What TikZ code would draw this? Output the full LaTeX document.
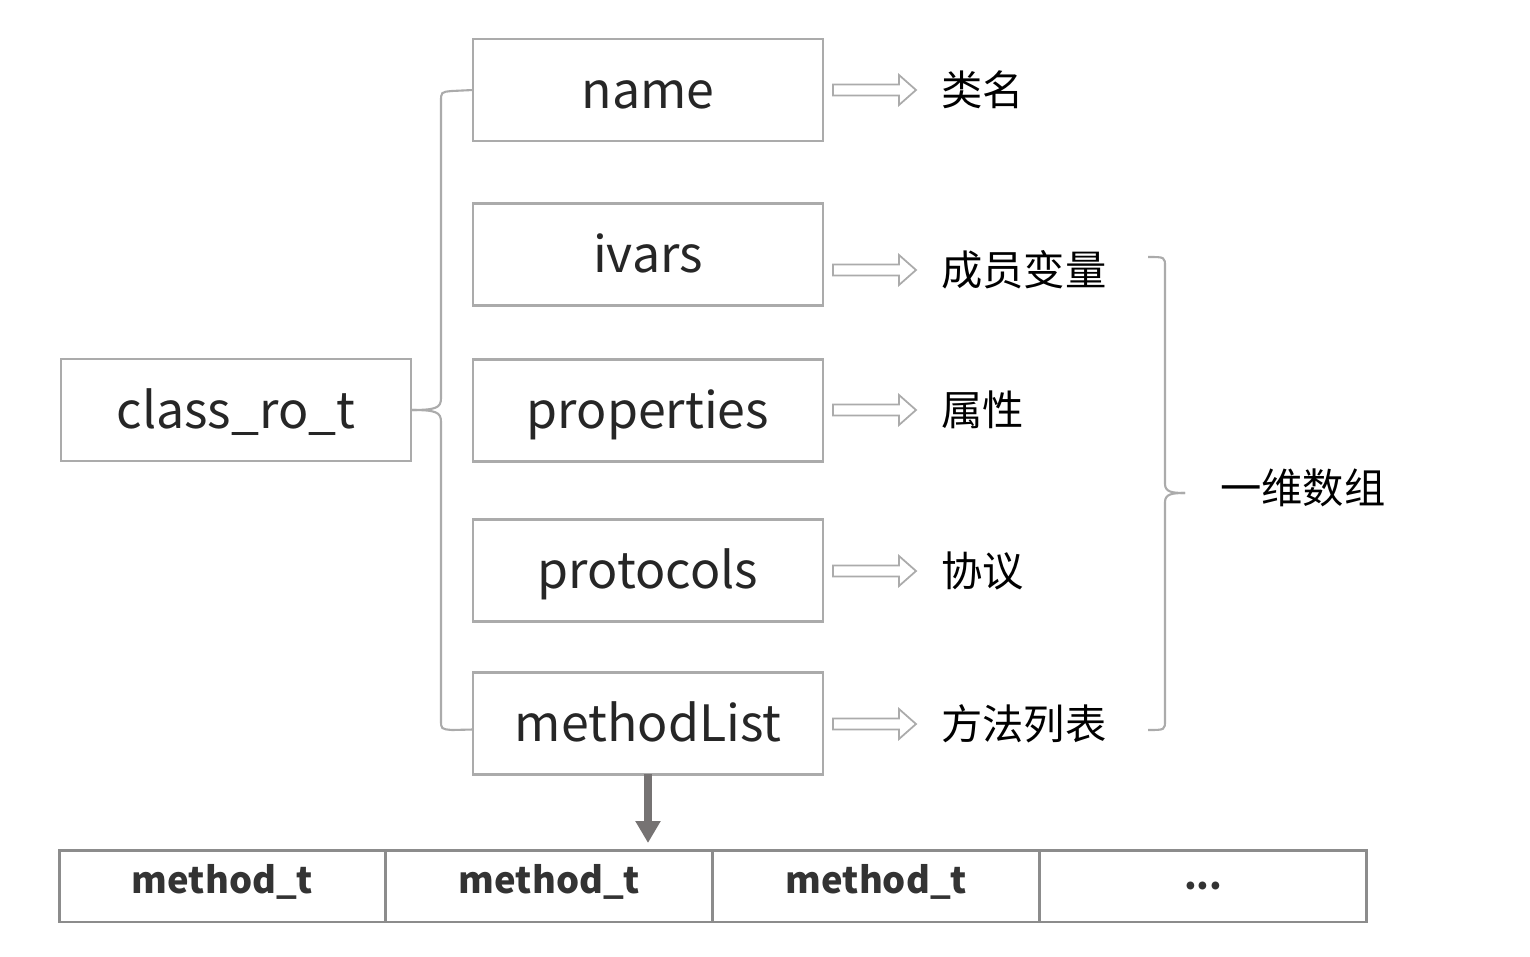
\documentclass[tikz,border=0pt]{standalone}
\usepackage{fontspec}
\setmainfont{Noto Sans CJK SC}
\usepackage{tikz}
\usetikzlibrary{positioning}
\usetikzlibrary{arrows.meta}
\usetikzlibrary{calc}

\definecolor{boxgray}{HTML}{ABABAB}
\definecolor{cellgray}{HTML}{8C8C8C}
\definecolor{arrgray}{HTML}{767373}
\definecolor{txtdark}{HTML}{262626}
\definecolor{celltxt}{HTML}{333333}

\tikzset{
  field/.style={draw=boxgray, line width=1.2pt, minimum width=7cm, minimum height=2.04cm,
    inner sep=0pt, outer sep=0pt, text=txtdark, text height=26pt, text depth=5pt,
    font=\fontsize{28.5}{34}\selectfont},
  meaning/.style={anchor=west, inner sep=0pt, text=black, font=\fontsize{23.5}{28}\selectfont},
  cell/.style={draw=cellgray, line width=1.7pt, minimum width=6.54cm, minimum height=1.44cm,
    inner sep=0pt, outer sep=0pt, text=celltxt, text height=14pt, text depth=6pt,
    font=\bfseries\fontsize{20.7}{25}\selectfont},
  brace/.style={draw=boxgray, line width=1.2pt},
  hollow/.style={draw=boxgray, line width=1pt, fill=white}
}

\begin{document}
\begin{tikzpicture}[x=0.02cm, y=-0.02cm]
        % Define the frame
        \useasboundingbox (0,0) rectangle (1530,956);

        % Draw the boxes
        \node[field] (cls) at (236,410) {class\_ro\_t};
        \node[field] (name) at (648,90) {name};
        \node[field] (ivars) at (648,254.5) {ivars};
        \node[field] (properties) at (648,410.5) {properties};
        \node[field] (protocols) at (648,570.5) {protocols};
        \node[field] (methodList) at (648,723.5) {methodList};

        % Meanings
        \node[meaning] (lname) at (941,90) {类名};
        \node[meaning] (livars) at (941,270) {成员变量};
        \node[meaning] (lproperties) at (941,410) {属性};
        \node[meaning] (lprotocols) at (941,571) {协议};
        \node[meaning] (lmethodList) at (941,724) {方法列表};
        \node[meaning] (array) at (1220,488) {一维数组};

        % Left brace
        \draw[brace] (name.west) -- (452,91) .. controls (441,92) .. (441,102)
          -- (441,398) .. controls (441,408) and (436,410) .. (cls.east);
        \draw[brace] ([yshift=-0.12cm]methodList.west) -- (452,730) .. controls (441,729) .. (441,720)
          -- (441,422) .. controls (441,412) and (436,410) .. (cls.east);

        % Right brace
        \draw[brace] (1148,257) .. controls (1165,257) .. (1165,267) -- (1165,484)
          .. controls (1165,492) and (1172,493) .. (1185,493);
        \draw[brace] (1148,730) .. controls (1165,730) .. (1165,720) -- (1165,502)
          .. controls (1165,494) and (1172,493) .. (1185,493);

        % Hollow arrows
        \foreach \lbl in {lname, livars, lproperties, lprotocols, lmethodList}
        \draw[hollow] ($(\lbl.west)+(-108,-5.5)$) -- ++(66,0) -- ++(0,-9.5) -- ++(17,15)
          -- ++(-17,15) -- ++(0,-9.5) -- ++(-66,0) -- cycle;

        % Method list
        \node[cell] (m1) at (222.5,886) {method\_t};
        \node[cell, right=0pt of m1] (m2) {method\_t};
        \node[cell, right=0pt of m2] (m3) {method\_t};
        \node[cell, right=0pt of m3, text height=3.5pt, text depth=0pt] (m4) {...};

        \draw[arrgray, line width=4.5pt, -{Triangle[length=12.5pt, width=13.6pt]}, shorten >=4pt]
          (methodList.south) -- (methodList.south |- m2.north);
      \end{tikzpicture}
\end{document}
